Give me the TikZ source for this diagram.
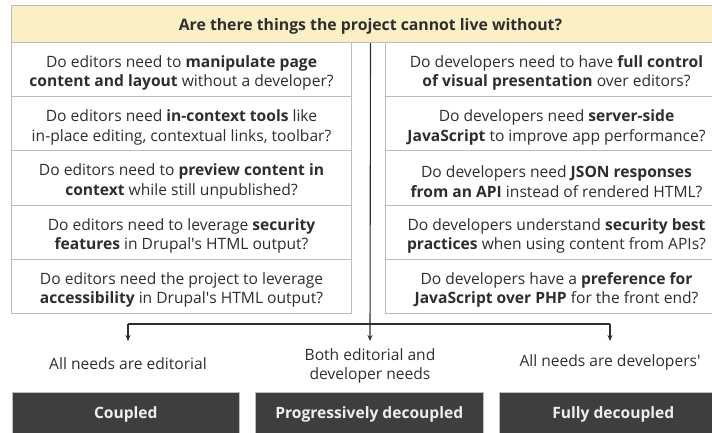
\documentclass[tikz,border=0pt]{standalone}
\usepackage{fontspec}
\setmainfont{Open Sans}
\usetikzlibrary{arrows.meta}
\definecolor{hdrfill}{HTML}{FBEFC6}
\definecolor{bord}{HTML}{BDBDBD}
\definecolor{txt}{HTML}{2E2E2E}
\definecolor{darkbox}{HTML}{3E3E3E}
\definecolor{lighttxt}{HTML}{EEEEEE}
\newcommand{\sq}{\textquotesingle}
\begin{document}
\begin{tikzpicture}[x=1pt,y=-1pt,
  qbox/.style={draw=bord, line width=1pt, fill=white, minimum height=54.2pt,
    inner sep=0pt, anchor=north west},
  lbox/.style={qbox, minimum width=340pt},
  rbox/.style={qbox, minimum width=342pt},
  qtext/.style={inner sep=0pt, align=center, font=\fontsize{15.6}{19.5}\selectfont, text=txt},
  hdrbox/.style={draw=bord, line width=1pt, fill=hdrfill, minimum width=718pt,
    minimum height=37pt, inner sep=0pt, anchor=north west},
  hdrtext/.style={inner sep=0pt, text=txt, font=\fontsize{15.8}{20}\selectfont\bfseries},
  outbox/.style={draw=bord, line width=0.6pt, fill=darkbox, minimum width=227pt,
    minimum height=44pt, inner sep=0pt, anchor=north west, text=lighttxt,
    font=\fontsize{15.6}{20}\selectfont\bfseries},
  lab/.style={align=center, text=txt, font=\fontsize{15.6}{18.5}\selectfont, inner sep=0pt},
  conn/.style={draw=txt, line width=1.1pt},
  arr/.style={conn, -{Stealth[length=6pt,width=5pt]}}
]
\useasboundingbox (0,0) rectangle (712,432);

\node[hdrbox] (hdr) at (11,5) {};
\node[hdrtext] (hdrt) at ([yshift=-2.5pt]hdr.center) {Are there things the project cannot live without?};

\node[lbox] (L1) at (11,42) {};
\node[lbox] (L2) at (11,96.2) {};
\node[lbox] (L3) at (11,150.4) {};
\node[lbox] (L4) at (11,204.6) {};
\node[lbox] (L5) at (11,258.8) {};
\node[rbox] (R1) at (385,42) {};
\node[rbox] (R2) at (385,96.2) {};
\node[rbox] (R3) at (385,150.4) {};
\node[rbox] (R4) at (385,204.6) {};
\node[rbox] (R5) at (385,258.8) {};

\node[qtext] (L1t) at ([yshift=-3.5pt]L1.center) {Do editors need to \textbf{manipulate page}\\\textbf{content and layout} without a developer?};
\node[qtext] (L2t) at ([yshift=-3.5pt]L2.center) {Do editors need \textbf{in-context tools} like\\in-place editing, contextual links, toolbar?};
\node[qtext] (L3t) at ([yshift=-3.5pt]L3.center) {Do editors need to \textbf{preview content in}\\\textbf{context} while still unpublished?};
\node[qtext] (L4t) at ([yshift=-3.5pt]L4.center) {Do editors need to leverage \textbf{security}\\\textbf{features} in Drupal\sq s HTML output?};
\node[qtext] (L5t) at ([yshift=-3.5pt]L5.center) {Do editors need the project to leverage\\\textbf{accessibility} in Drupal\sq s HTML output?};

\node[qtext] (R1t) at ([yshift=-3.5pt]R1.center) {Do developers need to have \textbf{full control}\\\textbf{of visual presentation} over editors?};
\node[qtext] (R2t) at ([yshift=-3.5pt]R2.center) {Do developers need \textbf{server-side}\\\textbf{JavaScript} to improve app performance?};
\node[qtext] (R3t) at ([yshift=-3.5pt]R3.center) {Do developers need \textbf{JSON responses}\\\textbf{from an API} instead of rendered HTML?};
\node[qtext] (R4t) at ([yshift=-3.5pt]R4.center) {Do developers understand \textbf{security best}\\\textbf{practices} when using content from APIs?};
\node[qtext] (R5t) at ([yshift=-3.5pt]R5.center) {Do developers have a \textbf{preference for}\\\textbf{JavaScript over PHP} for the front end?};

\coordinate (jl) at (128,324);
\coordinate (jr) at (610,324);
\coordinate (tl) at (128,341);
\coordinate (tm) at (370,341);
\coordinate (tr) at (610,341);

\draw[conn] (jl) -- (jr);
\draw[arr] (hdr.south) -- (tm);
\draw[arr] (jl) -- (tl);
\draw[arr] (jr) -- (tr);

\node[lab] (e1) at (128,364) {All needs are editorial};
\node[lab] (e2) at (370,366) {Both editorial and\\developer needs};
\node[lab] (e3) at (610,362) {All needs are developers\sq};

\node[outbox] (c1) at (12,392) {Coupled};
\node[outbox, minimum width=228pt] (c2) at (255,392) {Progressively decoupled};
\node[outbox, minimum width=228pt] (c3) at (499,392) {Fully decoupled};
\end{tikzpicture}
\end{document}
